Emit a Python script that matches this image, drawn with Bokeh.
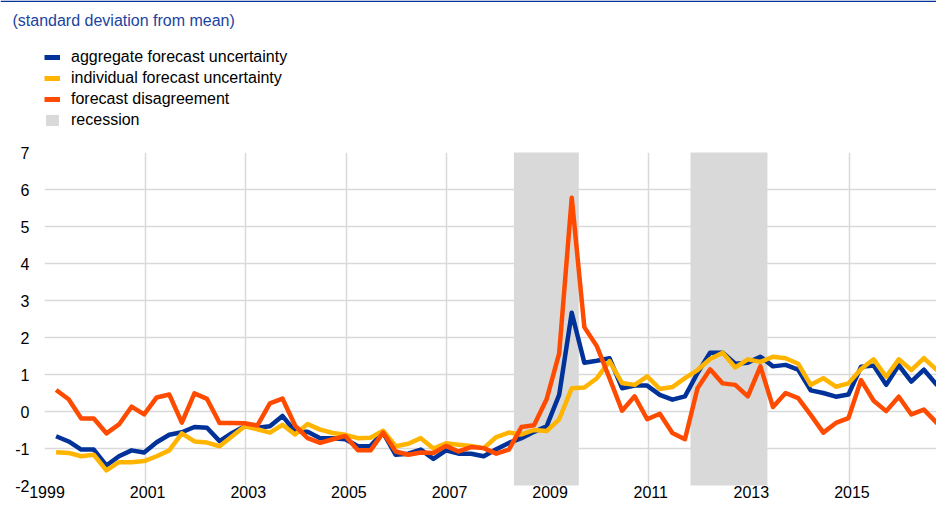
from bokeh.plotting import figure
from bokeh.layouts import column
from bokeh.models import (Range1d, FixedTicker, Legend, LegendItem, Label, BoxAnnotation,
                          CustomJSTickFormatter)
from bokeh.embed import file_html
from bokeh.resources import INLINE

# ---- data ----
first_quarter = 1999.23
quarter_step = 0.25

aggregate = [
    -0.67, -0.81, -1.03, -1.03, -1.46, -1.21, -1.05, -1.11, -0.83, -0.63,
    -0.56, -0.42, -0.44, -0.80, -0.58, -0.40, -0.44, -0.40, -0.12, -0.54,
    -0.55, -0.72, -0.72, -0.75, -0.94, -0.93, -0.57, -1.17, -1.14, -1.03,
    -1.28, -1.05, -1.14, -1.14, -1.21, -1.02, -0.85, -0.72, -0.55, -0.40,
    0.45, 2.67, 1.32, 1.37, 1.44, 0.63, 0.70, 0.70, 0.45, 0.32,
    0.41, 1.04, 1.59, 1.59, 1.29, 1.32, 1.48, 1.22, 1.26, 1.13,
    0.57, 0.50, 0.40, 0.46, 1.21, 1.24, 0.72, 1.25, 0.81, 1.13,
    0.73, 1.12,
]
individual = [
    -1.10, -1.12, -1.21, -1.17, -1.59, -1.37, -1.37, -1.34, -1.21, -1.05,
    -0.59, -0.81, -0.84, -0.94, -0.67, -0.40, -0.48, -0.57, -0.36, -0.62,
    -0.34, -0.49, -0.58, -0.63, -0.72, -0.71, -0.52, -0.94, -0.87, -0.72,
    -1.00, -0.86, -0.90, -0.93, -0.99, -0.69, -0.57, -0.62, -0.50, -0.53,
    -0.21, 0.63, 0.65, 0.90, 1.36, 0.77, 0.72, 0.95, 0.61, 0.66,
    0.90, 1.12, 1.42, 1.59, 1.19, 1.41, 1.34, 1.48, 1.44, 1.29,
    0.72, 0.90, 0.67, 0.76, 1.15, 1.41, 0.94, 1.41, 1.12, 1.44,
    1.13, 1.56,
]
disagreement = [
    0.58, 0.33, -0.19, -0.19, -0.59, -0.35, 0.13, -0.08, 0.38, 0.46,
    -0.30, 0.49, 0.34, -0.31, -0.31, -0.32, -0.38, 0.22, 0.35, -0.38,
    -0.72, -0.85, -0.75, -0.66, -1.05, -1.05, -0.57, -1.08, -1.17, -1.11,
    -1.12, -0.93, -1.08, -0.96, -0.99, -1.14, -1.03, -0.42, -0.37, 0.33,
    1.57, 5.78, 2.28, 1.76, 0.90, 0.02, 0.41, -0.21, -0.06, -0.58,
    -0.75, 0.63, 1.14, 0.76, 0.72, 0.41, 1.22, 0.12, 0.50, 0.36,
    -0.09, -0.57, -0.31, -0.18, 0.85, 0.29, 0.01, 0.40, -0.08, 0.05,
    -0.30, -0.31,
]
dates = [first_quarter + quarter_step * i for i in range(len(aggregate))]

recession_start = [2008.33, 2011.84]
recession_end = [2009.62, 2013.37]

x_ticks = [1999, 2001, 2003, 2005, 2007, 2009, 2011, 2013, 2015, 2017]
y_ticks = [-2, -1, 0, 1, 2, 3, 4, 5, 6, 7]

subtitle = "(standard deviation from mean)"
series_names = ["aggregate forecast uncertainty", "individual forecast uncertainty",
                "forecast disagreement", "recession"]

BLUE = "#003299"
YELLOW = "#ffb400"
ORANGE = "#ff4b00"
GREY = "#d9d9d9"
FONT = "Liberation Sans"
W = 936
HEAD_H = 140
MAIN_H = 364
NAN = float("nan")
LABEL_SHIFT = 0.05  # labels sit slightly right of their gridline, as in the original

# ---- header: rule, subtitle, legend ----
head = figure(width=W, height=HEAD_H, output_backend="svg", toolbar_location=None,
              x_range=Range1d(0, W), y_range=Range1d(0, HEAD_H),
              x_axis_location=None, y_axis_location=None,
              min_border_left=0, min_border_right=0, min_border_top=0, min_border_bottom=0)
head.frame_align = False
head.outline_line_color = None
head.xgrid.visible = False
head.ygrid.visible = False
head.background_fill_color = "white"
head.border_fill_color = "white"

# legend-only renderers (no visible data)
h_agg = head.line([NAN], [NAN], line_color=BLUE, line_width=5)
h_ind = head.line([NAN], [NAN], line_color=YELLOW, line_width=5)
h_dis = head.line([NAN], [NAN], line_color=ORANGE, line_width=5)
h_rec = head.quad(left=[NAN], right=[NAN], top=[NAN], bottom=[NAN],
                  fill_color=GREY, line_color=None)

legend = Legend(items=[
    LegendItem(label=series_names[0], renderers=[h_agg]),
    LegendItem(label=series_names[1], renderers=[h_ind]),
    LegendItem(label=series_names[2], renderers=[h_dis]),
    LegendItem(label=series_names[3], renderers=[h_rec]),
], location=(44, 10))
legend.glyph_width = 16
legend.glyph_height = 14
legend.label_standoff = 11
legend.label_height = 21
legend.spacing = 0
legend.padding = 0
legend.margin = 0
legend.border_line_color = None
legend.background_fill_alpha = 0
legend.label_text_font = FONT
legend.label_text_font_size = "16px"
legend.label_text_color = "#000000"
head.add_layout(legend)

head.add_layout(Label(x=12, y=HEAD_H - 20, text=subtitle,
                      text_font=FONT, text_font_size="16px", text_color="#1a44a0",
                      text_baseline="middle"))
head.add_layout(BoxAnnotation(left=0, right=W, top=HEAD_H, bottom=HEAD_H - 1.6,
                              fill_color=BLUE, fill_alpha=1, line_color=None))

# ---- main chart ----
p = figure(width=W, height=MAIN_H, output_backend="svg", toolbar_location=None,
           x_range=Range1d(1999, 2016.73), y_range=Range1d(-2, 7),
           min_border_left=44, min_border_right=0, min_border_top=12,
           min_border_bottom=19)
p.frame_align = False
p.outline_line_color = None
p.background_fill_color = "white"
p.border_fill_color = "white"

p.quad(left=recession_start, right=recession_end, bottom=-2.1, top=7.05,
       fill_color=GREY, line_color=None)
p.line(dates, aggregate, line_color=BLUE, line_width=4.5, line_join="round")
p.line(dates, individual, line_color=YELLOW, line_width=4.5, line_join="round")
p.line(dates, disagreement, line_color=ORANGE, line_width=4.5, line_join="round")

p.xaxis.ticker = FixedTicker(ticks=[t + LABEL_SHIFT for t in x_ticks])
p.xaxis.formatter = CustomJSTickFormatter(code="return String(Math.round(tick));")
p.xgrid.ticker = FixedTicker(ticks=x_ticks)
p.yaxis.ticker = FixedTicker(ticks=y_ticks)
p.yaxis.formatter = CustomJSTickFormatter(code="return String(Math.round(tick));")
for ax in (p.xaxis, p.yaxis):
    ax.axis_line_color = None
    ax.major_tick_line_color = None
    ax.minor_tick_line_color = None
    ax.major_tick_out = 0
    ax.major_tick_in = 0
    ax.major_label_text_font = FONT
    ax.major_label_text_font_size = "16px"
    ax.major_label_text_color = "#000000"
p.xaxis.major_label_standoff = 0
p.yaxis.major_label_standoff = 15

p.xgrid.grid_line_color = GREY
p.ygrid.grid_line_color = GREY
p.xgrid.grid_line_width = 1.5
p.ygrid.grid_line_width = 1.5

layout = column(head, p, spacing=0)
open("out.html", "w").write(file_html(layout, INLINE))
